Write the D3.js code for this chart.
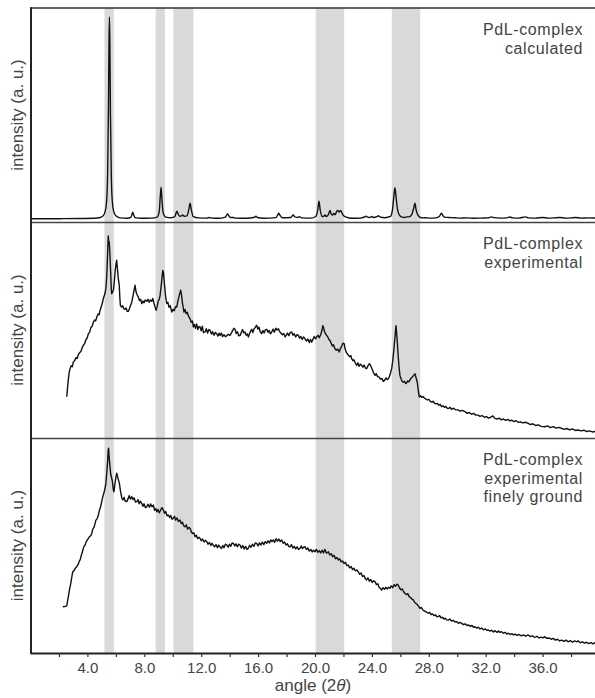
<!DOCTYPE html>
<html>
<head>
<meta charset="utf-8">
<script src="https://cdn.jsdelivr.net/npm/d3@7"></script>
<style>
  html, body { margin: 0; padding: 0; background: #fff; }
  svg { display: block; }
  text { font-family: "Liberation Sans", Arial, sans-serif; }
</style>
</head>
<body>
<div id="chart"></div>
<script>
// ---------- DATA ----------
const angleTicks = [2,4,6,8,10,12,14,16,18,20,22,24,26,28,30,32,34,36,38];
const angleLabels = [4,8,12,16,20,24,28,32,36];
const bands = [[5.2,5.85],[8.8,9.45],[10.05,11.45],[20.05,22.05],[25.4,27.4]];
const panelNames = [["PdL-complex","calculated"],["PdL-complex","experimental"],["PdL-complex","experimental","finely ground"]];

const calculated = [
[0.0,0.4],[2.0,0.4],[3.5,0.5],[4.5,0.6],[4.9,1.0],[5.1,1.8],[5.25,4],[5.35,9],[5.42,22],[5.48,55],[5.52,88],[5.55,100],[5.58,86],[5.62,52],[5.68,22],[5.75,9],[5.85,4],[6.0,1.8],[6.3,0.8],[6.8,0.6],
[7.05,1.0],[7.14,2.6],[7.19,3.6],[7.24,2.6],[7.35,0.9],[7.8,0.6],[8.5,0.7],
[8.9,1.2],[9.05,4],[9.12,11],[9.18,16],[9.24,10],[9.32,3.5],[9.5,1.2],[9.9,0.9],
[10.15,1.5],[10.25,3.5],[10.3,4.1],[10.36,3.0],[10.5,1.6],[10.62,1.8],[10.7,2.2],[10.8,1.6],[11.0,1.8],[11.13,5],[11.22,8.1],[11.3,5],[11.45,1.4],[11.8,0.8],
[12.4,0.7],[12.6,1.0],[12.75,0.7],[13.2,0.6],[13.7,1.2],[13.8,2.3],[13.86,2.8],[13.93,2.0],[14.05,1.0],[14.26,1.0],[14.4,0.7],[15.2,0.6],[15.75,1.1],[15.85,1.6],[15.95,1.0],[16.4,0.6],[17.25,0.9],[17.38,2.3],[17.45,3.1],[17.52,2.3],[17.7,0.9],[18.3,1.0],[18.42,2.0],[18.48,2.3],[18.55,1.5],[18.75,1.0],[18.9,1.4],[19.05,0.8],[19.7,0.7],
[20.05,1.5],[20.2,5],[20.28,9],[20.36,5],[20.5,1.5],[20.62,1.6],[20.7,2.2],[20.8,1.5],[20.95,2.5],[21.05,4.5],[21.15,2.6],[21.25,2.2],[21.32,3.0],[21.42,2.4],[21.52,4],[21.6,4.5],[21.7,3.6],[21.8,4.5],[21.9,3.2],[22.0,2.0],[22.2,1.2],[22.58,0.6],[23.2,0.7],[23.5,1.3],[23.6,1.6],[23.7,1.2],[23.85,1.0],[24.0,1.5],[24.1,1.0],[24.35,1.4],[24.45,1.9],[24.55,1.3],[24.9,0.9],
[25.3,1.5],[25.45,5],[25.55,12],[25.62,15.7],[25.7,11],[25.8,5],[25.95,2],[26.1,1.2],[26.3,1.0],[26.45,1.3],[26.6,1.3],[26.8,2.4],[26.95,6],[27.03,8.1],[27.1,5],[27.25,2.0],[27.4,1.0],[27.6,0.8],[27.8,0.9],[28.0,0.7],[28.5,0.8],[28.75,1.6],[28.85,2.8],[28.9,3.1],[28.97,2.2],[29.1,1.2],[29.4,1.0],[29.8,0.9],[30.2,0.7],[30.7,0.8],[31.2,0.6],[31.7,0.7],[32.2,0.8],[32.4,1.3],[32.6,0.9],[33.0,0.7],[33.5,0.8],[33.7,1.2],[33.9,0.8],[34.3,0.7],[34.8,1.3],[35.0,0.8],[35.5,0.7],[36.0,1.0],[36.4,0.7],[36.8,0.8],[37.2,1.0],[37.6,0.7],[38.0,0.8],[38.3,1.0],[38.7,0.7],[39.2,0.8],[40,0.7]
];

const experimental = [
[2.55,19.1],[2.6,23],[2.66,27],[2.72,30.5],[2.78,32],[2.86,33.5],[2.94,33],[3.01,35.2],[3.1,35.8],[3.2,37.2],[3.28,36.8],[3.37,38.8],[3.46,39.5],[3.55,40.2],[3.63,41.8],[3.72,43],[3.8,43.6],[3.9,45.6],[3.98,46.2],[4.07,48.3],[4.15,48.9],[4.25,51.2],[4.33,51.6],[4.42,53.7],[4.5,54.6],[4.58,54.2],[4.66,56],[4.75,57.4],[4.82,57.0],[4.89,59.1],[4.97,60.6],[5.05,62.5],[5.12,64.5],[5.2,66.2],[5.26,67.6],[5.31,69.9],[5.36,75],[5.4,81.5],[5.44,89],[5.47,93.5],[5.5,90],[5.53,91],[5.56,88],[5.59,84],[5.64,76],[5.68,69],[5.71,66.8],[5.76,67.5],[5.83,68.4],[5.9,73],[5.96,78],[6.02,81],[6.06,82.3],[6.1,79],[6.17,74],[6.24,70.7],[6.28,65],[6.32,61.4],[6.4,60.6],[6.48,61.2],[6.56,59.8],[6.64,59.6],[6.72,60.2],[6.8,58.6],[6.88,58.7],[6.96,60.0],[7.04,61.5],[7.12,63],[7.2,65.6],[7.28,68.5],[7.35,70.7],[7.42,67.6],[7.5,66.2],[7.58,65.3],[7.66,63.6],[7.74,64.2],[7.82,62.2],[7.9,63.4],[7.98,62.6],[8.06,63.9],[8.17,63.3],[8.26,64.2],[8.34,62.8],[8.43,63.9],[8.52,63.3],[8.6,64.6],[8.68,62.4],[8.76,60.6],[8.83,59.1],[8.9,60.8],[8.98,63.5],[9.05,64.2],[9.11,66],[9.18,70],[9.25,74.5],[9.3,77.6],[9.35,76.5],[9.42,71],[9.5,65.5],[9.58,62.2],[9.66,62.8],[9.74,60.5],[9.82,61.3],[9.93,58.3],[10.02,59.6],[10.1,58.9],[10.2,60.8],[10.28,60.6],[10.36,63.4],[10.45,65.8],[10.52,67.5],[10.56,68.4],[10.62,66],[10.68,62.5],[10.74,60.2],[10.79,58.3],[10.86,59.5],[10.94,57.6],[11.02,58.2],[11.1,56.5],[11.22,55.2],[11.3,53.6],[11.38,54.2],[11.45,51.4],[11.52,52.6],[11.6,50.8],[11.68,52.8],[11.76,50.2],[11.84,51.6],[11.92,51.4],[12.0,49.6],[12.08,51.8],[12.16,48.8],[12.27,49.1],[12.36,50.6],[12.45,48.6],[12.54,50.2],[12.62,49.9],[12.72,48.1],[12.8,49.2],[12.9,47.6],[13.0,48.9],[13.09,48.3],[13.18,47.2],[13.26,48.5],[13.33,47.5],[13.42,48.6],[13.5,47.0],[13.6,47.8],[13.7,46.9],[13.8,47.4],[13.9,48.0],[14.03,47.5],[14.12,48.6],[14.2,49.6],[14.3,50.8],[14.38,50.3],[14.46,48.4],[14.55,49.2],[14.64,47.3],[14.73,47.5],[14.82,48.8],[14.9,50.2],[15.0,48.6],[15.08,49.1],[15.16,47.6],[15.24,48.2],[15.32,46.8],[15.4,48.4],[15.48,49.6],[15.55,50.3],[15.63,48.8],[15.72,50.6],[15.8,51.2],[15.9,52.2],[15.98,50.4],[16.06,51.3],[16.15,49.2],[16.25,48.3],[16.33,49.8],[16.42,48.6],[16.52,50.2],[16.61,50.3],[16.7,48.9],[16.78,49.8],[16.87,48.2],[16.96,49.1],[17.05,50.4],[17.14,49.0],[17.24,50.8],[17.33,50.0],[17.43,50.6],[17.52,49.2],[17.6,48.6],[17.7,47.8],[17.8,48.4],[17.9,46.8],[17.98,47.6],[18.07,48.6],[18.16,47.4],[18.26,48.8],[18.36,49.1],[18.45,47.6],[18.54,48.3],[18.64,46.8],[18.74,47.9],[18.83,47.5],[18.92,46.2],[19.01,47.0],[19.1,45.6],[19.2,46.8],[19.3,45.9],[19.4,44.9],[19.5,45.8],[19.6,44.2],[19.68,45.6],[19.77,44.4],[19.86,45.8],[19.95,47.0],[20.04,45.9],[20.12,46.8],[20.22,47.6],[20.3,46.4],[20.4,47.8],[20.48,49.5],[20.55,52],[20.6,51.2],[20.66,49.5],[20.74,48.2],[20.82,47.5],[20.9,46.8],[20.98,45.6],[21.05,45.2],[21.14,43.8],[21.22,42.6],[21.3,43.2],[21.4,41.3],[21.5,40.6],[21.6,41.2],[21.7,39.8],[21.8,41.5],[21.88,42.6],[21.96,43.9],[22.05,43.7],[22.12,41.2],[22.2,39.6],[22.27,39.0],[22.36,38.2],[22.45,37.6],[22.52,38.2],[22.58,36.7],[22.66,35.8],[22.74,36.2],[22.84,34.6],[22.93,33.6],[23.02,34.8],[23.1,33.2],[23.2,34.2],[23.28,33.6],[23.36,32.8],[23.45,33.8],[23.54,32.4],[23.63,32.1],[23.72,33.4],[23.82,34.4],[23.91,33.6],[24.0,32.2],[24.1,30.4],[24.22,29.0],[24.3,29.8],[24.4,28.4],[24.52,28.2],[24.6,27.2],[24.7,27.6],[24.8,26.2],[24.9,26.8],[25.0,27.8],[25.08,27.0],[25.15,27.4],[25.24,28.6],[25.32,30.4],[25.39,32.1],[25.47,36],[25.55,41.3],[25.62,46.5],[25.67,50.5],[25.7,52],[25.73,49],[25.77,46],[25.83,39.8],[25.9,33.5],[25.97,29],[26.06,27.2],[26.13,26.2],[26.2,25.8],[26.3,26.3],[26.37,25.2],[26.44,25.5],[26.52,26.4],[26.6,26.0],[26.72,27.4],[26.82,28.1],[26.92,28.9],[27.03,29.7],[27.1,28.0],[27.19,25.8],[27.26,22],[27.33,19.0],[27.42,19.6],[27.5,18.8],[27.6,19.2],[27.7,18.4],[27.8,18.0],[27.9,17.6],[28.0,17.9],[28.1,17.0],[28.2,16.6],[28.3,17.0],[28.4,16.1],[28.5,15.8],[28.6,16.0],[28.7,15.2],[28.8,15.6],[28.9,14.5],[29.0,14.9],[29.1,14.2],[29.2,14.6],[29.3,13.8],[29.4,13.7],[29.5,14.2],[29.6,13.3],[29.75,13.8],[29.9,13.0],[30.07,13.0],[30.2,12.4],[30.35,12.8],[30.54,12.2],[30.7,11.4],[30.85,11.8],[31.0,11.0],[31.15,11.4],[31.3,10.6],[31.47,10.6],[31.6,10.0],[31.75,10.4],[31.9,9.6],[32.05,9.9],[32.2,9.2],[32.35,9.6],[32.5,10.2],[32.65,9.1],[32.8,8.8],[32.95,9.2],[33.1,8.4],[33.25,8.8],[33.4,8.2],[33.55,8.6],[33.7,7.9],[33.82,8.3],[34.0,7.6],[34.15,8.0],[34.3,7.2],[34.45,7.5],[34.6,7.0],[34.8,7.3],[34.99,6.8],[35.15,6.2],[35.3,6.6],[35.5,5.8],[35.7,6.1],[35.9,5.4],[36.16,5.2],[36.35,5.6],[36.55,4.8],[36.75,5.3],[36.95,4.6],[37.15,4.9],[37.33,4.5],[37.5,4.0],[37.7,4.4],[37.9,3.8],[38.1,4.2],[38.3,3.5],[38.5,3.7],[38.7,3.3],[38.9,3.6],[39.1,3.0],[39.3,3.3],[39.5,2.8],[39.68,3.0],[40,2.8]
];

const ground = [
[2.27,21.5],[2.4,21.6],[2.55,21.9],[2.6,24],[2.66,26.2],[2.74,29.5],[2.83,32.4],[2.9,35.2],[2.97,37.8],[3.05,38.2],[3.15,39.4],[3.25,40.1],[3.35,41.2],[3.42,42.6],[3.49,43.3],[3.56,45.2],[3.62,46.4],[3.68,47.9],[3.76,49.6],[3.84,50.2],[3.92,51.8],[4.0,52.6],[4.08,53.4],[4.16,54.2],[4.24,54.6],[4.31,55.7],[4.38,57.6],[4.46,58.4],[4.54,60.3],[4.6,61.8],[4.68,62.4],[4.77,64.2],[4.84,66.2],[4.92,67.8],[5.01,70.4],[5.08,72.6],[5.16,74.4],[5.24,76.6],[5.3,79],[5.36,83.6],[5.42,89],[5.46,94],[5.49,95.3],[5.52,92],[5.55,89.5],[5.59,86.7],[5.64,83],[5.7,81.5],[5.76,79.7],[5.82,76],[5.87,75],[5.93,78.5],[6.0,81.6],[6.06,83.6],[6.12,82],[6.18,80.5],[6.25,78.9],[6.32,75.5],[6.42,72],[6.5,71.2],[6.58,72.4],[6.66,70.6],[6.77,70.4],[6.86,71.8],[6.94,73.2],[7.02,71.6],[7.12,72.7],[7.2,71.4],[7.28,72.2],[7.38,70.2],[7.47,70.4],[7.56,71.3],[7.64,69.4],[7.72,70.6],[7.82,69.6],[7.9,68.2],[7.98,69.4],[8.08,67.6],[8.17,68.0],[8.26,69.2],[8.36,67.8],[8.45,69.3],[8.54,68.0],[8.64,68.8],[8.72,66.4],[8.8,67.2],[8.88,65.7],[8.96,66.8],[9.05,65.2],[9.14,66.4],[9.24,67.6],[9.34,66.5],[9.42,65.0],[9.5,65.8],[9.6,63.8],[9.69,64.2],[9.78,63.0],[9.86,64.0],[9.95,62.2],[10.04,62.7],[10.12,63.6],[10.2,61.8],[10.3,62.8],[10.4,61.2],[10.51,61.9],[10.6,60.2],[10.68,60.8],[10.77,59.2],[10.86,58.7],[10.95,59.6],[11.04,57.6],[11.12,58.4],[11.22,58.0],[11.3,56.4],[11.38,55.6],[11.48,55.9],[11.57,54.1],[11.66,54.8],[11.75,53.2],[11.84,53.8],[11.92,53.3],[12.0,52.2],[12.1,53.0],[12.2,51.6],[12.3,52.4],[12.39,51.8],[12.48,50.6],[12.58,51.4],[12.68,50.0],[12.76,51.0],[12.85,50.2],[12.94,49.4],[13.04,50.4],[13.14,49.0],[13.23,50.2],[13.32,49.4],[13.42,48.6],[13.52,50.0],[13.6,49.0],[13.7,50.6],[13.8,50.2],[13.9,49.2],[13.98,50.6],[14.08,49.6],[14.17,51.2],[14.26,51.0],[14.36,49.8],[14.45,50.8],[14.54,49.4],[14.64,50.6],[14.73,50.2],[14.82,48.8],[14.92,50.0],[15.02,48.4],[15.12,49.6],[15.22,48.2],[15.31,48.7],[15.4,50.0],[15.5,49.2],[15.6,50.6],[15.7,49.6],[15.8,51.2],[15.9,51.0],[16.0,49.8],[16.1,51.2],[16.2,50.2],[16.3,51.6],[16.4,50.4],[16.5,51.8],[16.61,51.0],[16.7,52.2],[16.8,51.2],[16.9,52.6],[16.98,51.8],[17.07,52.6],[17.16,51.4],[17.26,53.2],[17.36,52.0],[17.46,53.0],[17.56,51.8],[17.66,52.6],[17.76,51.0],[17.86,51.6],[17.96,50.2],[18.06,50.8],[18.15,49.6],[18.24,49.4],[18.34,50.4],[18.44,48.8],[18.54,49.6],[18.64,48.4],[18.74,49.4],[18.84,48.2],[18.95,48.7],[19.04,49.8],[19.12,48.6],[19.2,49.2],[19.3,49.4],[19.4,48.2],[19.5,48.8],[19.6,47.4],[19.7,48.2],[19.8,47.0],[19.9,47.8],[20.0,47.1],[20.1,48.2],[20.2,46.8],[20.3,47.6],[20.4,46.6],[20.5,47.8],[20.6,46.6],[20.7,48.2],[20.8,46.4],[20.94,47.1],[21.04,45.6],[21.14,46.2],[21.24,44.8],[21.34,45.4],[21.44,43.8],[21.54,44.4],[21.64,43.3],[21.74,43.8],[21.84,42.4],[21.94,42.8],[22.04,41.6],[22.14,42.2],[22.24,40.6],[22.34,40.9],[22.44,39.6],[22.54,40.2],[22.64,38.8],[22.74,39.4],[22.84,38.2],[22.94,38.6],[23.04,37.8],[23.14,36.6],[23.24,37.2],[23.34,35.6],[23.44,36.0],[23.54,34.6],[23.63,34.0],[23.72,35.0],[23.82,33.4],[23.92,34.2],[24.02,32.8],[24.12,33.6],[24.22,33.2],[24.32,31.8],[24.42,32.2],[24.5,30.6],[24.6,30.0],[24.69,29.3],[24.78,30.4],[24.88,29.6],[24.98,30.6],[25.08,29.8],[25.18,30.6],[25.27,30.1],[25.36,31.2],[25.46,30.4],[25.56,31.8],[25.66,31.0],[25.76,32.0],[25.85,31.6],[25.94,30.2],[26.04,29.4],[26.14,29.8],[26.24,28.4],[26.32,27.8],[26.42,27.2],[26.52,27.6],[26.62,26.2],[26.72,25.8],[26.82,25.0],[26.91,24.7],[27.0,23.6],[27.1,23.0],[27.2,22.4],[27.3,21.6],[27.38,20.8],[27.48,21.2],[27.58,20.0],[27.68,19.6],[27.78,19.2],[27.88,18.8],[27.96,18.5],[28.06,18.9],[28.16,17.8],[28.26,18.2],[28.36,17.4],[28.46,17.8],[28.56,17.0],[28.66,16.9],[28.76,17.4],[28.86,16.4],[28.96,16.6],[29.06,15.8],[29.16,16.2],[29.26,15.4],[29.37,15.3],[29.48,15.8],[29.6,14.8],[29.72,15.2],[29.84,14.4],[29.96,14.6],[30.08,13.8],[30.2,14.2],[30.31,13.8],[30.44,13.2],[30.56,13.6],[30.68,12.8],[30.8,13.0],[30.92,12.4],[31.04,12.8],[31.14,12.0],[31.24,12.2],[31.36,11.6],[31.48,12.0],[31.6,11.2],[31.72,11.6],[31.84,10.8],[31.96,11.2],[32.08,10.6],[32.18,10.7],[32.3,10.2],[32.42,10.6],[32.54,9.8],[32.66,10.4],[32.78,9.6],[32.9,10.2],[33.0,9.6],[33.12,9.9],[33.24,9.2],[33.36,9.6],[33.48,8.8],[33.6,9.2],[33.72,8.6],[33.84,9.0],[33.96,8.4],[34.05,8.8],[34.2,8.2],[34.35,8.6],[34.5,8.0],[34.65,8.4],[34.8,7.8],[34.99,8.4],[35.15,7.6],[35.3,8.0],[35.45,7.2],[35.6,7.8],[35.75,7.0],[35.9,7.4],[36.02,7.0],[36.16,7.6],[36.3,6.8],[36.45,7.0],[36.6,6.4],[36.75,6.8],[36.9,6.0],[37.05,6.4],[37.2,5.6],[37.34,6.0],[37.5,5.4],[37.65,6.0],[37.8,5.2],[37.95,5.8],[38.1,5.0],[38.25,5.6],[38.4,5.2],[38.5,5.7],[38.65,4.8],[38.8,5.2],[38.95,4.6],[39.1,5.0],[39.25,4.4],[39.4,4.8],[39.55,4.2],[39.68,4.8],[40,4.5]
];

// ---------- LAYOUT ----------
const W = 595, H = 698;
const left = 30.5, rightAt40 = 599.5;
const panels = [
  { top: 8,   bottom: 222, yTop: 17,  yBase: 219.5, data: calculated, curve: d3.curveMonotoneX },
  { top: 222, bottom: 438, yTop: 222, yBase: 438,   data: experimental, curve: d3.curveLinear },
  { top: 438, bottom: 653, yTop: 438, yBase: 653,   data: ground, curve: d3.curveLinear }
];

const svg = d3.select("#chart").append("svg")
  .attr("width", W).attr("height", H);

const x = d3.scaleLinear().domain([0, 40]).range([left, rightAt40]);

svg.append("defs").append("clipPath").attr("id", "plotclip")
  .append("rect").attr("x", left).attr("y", 8).attr("width", W - left).attr("height", 653 - 8);

// bands
svg.append("g").selectAll("rect").data(bands).join("rect")
  .attr("x", d => x(d[0])).attr("width", d => x(d[1]) - x(d[0]))
  .attr("y", 8).attr("height", 653 - 8)
  .attr("fill", "#d9d9d9");

// curves
panels.forEach((p, i) => {
  const y = d3.scaleLinear().domain([0, 100]).range([p.yBase, p.yTop]);
  const line = d3.line().x(d => x(d[0])).y(d => y(d[1])).curve(p.curve);
  svg.append("path").datum(p.data)
    .attr("clip-path", "url(#plotclip)")
    .attr("d", line)
    .attr("fill", "none")
    .attr("stroke", "#111")
    .attr("stroke-width", 1.4)
    .attr("stroke-linejoin", "round");

  // panel label (one text per line)
  panelNames[i].forEach((s, k) => {
    svg.append("text")
      .attr("x", 583).attr("y", p.top + 27 + k * 18.5)
      .attr("text-anchor", "end")
      .attr("font-size", 16)
      .attr("letter-spacing", 0.6)
      .attr("fill", "#444")
      .text(s);
  });

  // y label
  svg.append("text")
    .attr("transform", `translate(22.5,${(p.top + p.bottom) / 2}) rotate(-90)`)
    .attr("text-anchor", "middle")
    .attr("font-size", 17)
    .attr("fill", "#444")
    .text("intensity (a. u.)");
});

// frame lines
svg.append("line").attr("x1", left).attr("x2", W).attr("y1", 8).attr("y2", 8)
  .attr("stroke", "#333").attr("stroke-width", 1.6);
[222.5, 438.5].forEach(yy => {
  svg.append("line").attr("x1", left).attr("x2", W).attr("y1", yy).attr("y2", yy)
    .attr("stroke", "#444").attr("stroke-width", 1.4);
});
svg.append("line").attr("x1", 31).attr("x2", 31).attr("y1", 7.2).attr("y2", 654)
  .attr("stroke", "#222").attr("stroke-width", 2);

// x axis
const xAxis = d3.axisBottom(x)
  .tickValues(angleTicks)
  .tickSize(4)
  .tickSizeOuter(0)
  .tickPadding(5)
  .tickFormat(d => angleLabels.includes(d) ? d.toFixed(1) : "");
const gx = svg.append("g").attr("transform", "translate(0,653)").call(xAxis);
gx.select(".domain").attr("stroke", "#222").attr("stroke-width", 2);
gx.selectAll(".tick line").attr("stroke", "#333").attr("stroke-width", 1.2);
gx.selectAll(".tick text").attr("font-size", 15).attr("fill", "#444")
  .attr("font-family", "'Liberation Sans', Arial, sans-serif");

// x title
const xt = svg.append("text")
  .attr("x", 313).attr("y", 691)
  .attr("text-anchor", "middle")
  .attr("font-size", 17)
  .attr("fill", "#444");
xt.append("tspan").text("angle (2");
xt.append("tspan").attr("font-style", "italic").text("θ");
xt.append("tspan").text(")");
</script>
</body>
</html>
